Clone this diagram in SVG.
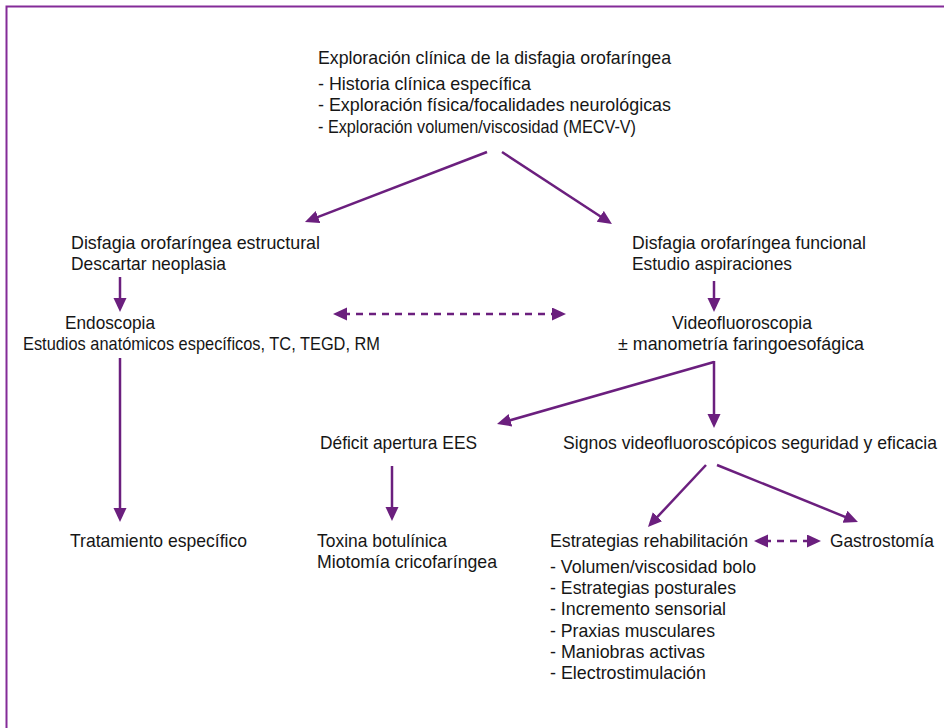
<svg xmlns="http://www.w3.org/2000/svg" width="944" height="728" viewBox="0 0 944 728">
<style>
text{font-family:"Liberation Sans",Arial,sans-serif;font-size:19px;fill:#161616;}
.c{stroke:#6b1f7e;stroke-width:2.5;fill:none;}
.d{stroke-dasharray:7 6;}
</style>
<defs>
<marker id="ah" markerUnits="userSpaceOnUse" markerWidth="16" markerHeight="14" refX="4" refY="6.5" orient="auto-start-reverse" viewBox="0 0 16 14">
<path d="M0,0 L14,6.5 L0,13 z" fill="#6b1f7e"/>
</marker>
</defs>
<rect width="944" height="728" fill="#fff"/>
<path d="M6.5,728 V6.5 H944" fill="none" stroke="#842b98" stroke-width="2"/>
<g id="connectors">
<line class="c" x1="487" y1="152" x2="314.3" y2="218.4" marker-end="url(#ah)"/>
<line class="c" x1="502" y1="152" x2="603.6" y2="218.5" marker-end="url(#ah)"/>
<line class="c" x1="120" y1="277" x2="120" y2="302" marker-end="url(#ah)"/>
<line class="c d" x1="343" y1="314" x2="556" y2="314" marker-start="url(#ah)" marker-end="url(#ah)"/>
<line class="c" x1="714" y1="281" x2="714" y2="302" marker-end="url(#ah)"/>
<line class="c" x1="120" y1="358" x2="120" y2="512" marker-end="url(#ah)"/>
<line class="c" x1="714" y1="361" x2="714" y2="418" marker-end="url(#ah)"/>
<line class="c" x1="714" y1="362" x2="506.6" y2="421.3" marker-end="url(#ah)"/>
<line class="c" x1="392" y1="466" x2="392" y2="511" marker-end="url(#ah)"/>
<line class="c" x1="706" y1="465" x2="654.8" y2="519.7" marker-end="url(#ah)"/>
<line class="c" x1="717" y1="465" x2="848.7" y2="518.3" marker-end="url(#ah)"/>
<line class="c d" x1="764" y1="541" x2="811" y2="541" marker-start="url(#ah)" marker-end="url(#ah)"/>
</g>
<g id="exploracion">
<text x="318" y="64" textLength="353" lengthAdjust="spacingAndGlyphs">Exploración clínica de la disfagia orofaríngea</text>
<text x="318" y="90" textLength="213" lengthAdjust="spacingAndGlyphs">- Historia clínica específica</text>
<text x="318" y="111" textLength="353" lengthAdjust="spacingAndGlyphs">- Exploración física/focalidades neurológicas</text>
<text x="318" y="133" textLength="318" lengthAdjust="spacingAndGlyphs">- Exploración volumen/viscosidad (MECV-V)</text>
</g>
<g id="estructural">
<text x="71" y="249" textLength="249" lengthAdjust="spacingAndGlyphs">Disfagia orofaríngea estructural</text>
<text x="71" y="270" textLength="155" lengthAdjust="spacingAndGlyphs">Descartar neoplasia</text>
</g>
<g id="endoscopia">
<text x="65" y="329" textLength="90" lengthAdjust="spacingAndGlyphs">Endoscopia</text>
<text x="23" y="350" textLength="357" lengthAdjust="spacingAndGlyphs">Estudios anatómicos específicos, TC, TEGD, RM</text>
</g>
<g id="tratamiento">
<text x="70" y="547" textLength="177" lengthAdjust="spacingAndGlyphs">Tratamiento específico</text>
</g>
<g id="funcional">
<text x="632" y="249" textLength="234" lengthAdjust="spacingAndGlyphs">Disfagia orofaríngea funcional</text>
<text x="632" y="270" textLength="160" lengthAdjust="spacingAndGlyphs">Estudio aspiraciones</text>
</g>
<g id="videofluoroscopia">
<text x="672" y="329" textLength="140" lengthAdjust="spacingAndGlyphs">Videofluoroscopia</text>
<text x="618" y="350" textLength="246" lengthAdjust="spacingAndGlyphs">± manometría faringoesofágica</text>
</g>
<g id="deficit">
<text x="320" y="449" textLength="157" lengthAdjust="spacingAndGlyphs">Déficit apertura EES</text>
</g>
<g id="signos">
<text x="563" y="449" textLength="374" lengthAdjust="spacingAndGlyphs">Signos videofluoroscópicos seguridad y eficacia</text>
</g>
<g id="toxina">
<text x="317" y="547" textLength="130" lengthAdjust="spacingAndGlyphs">Toxina botulínica</text>
<text x="317" y="568" textLength="180" lengthAdjust="spacingAndGlyphs">Miotomía cricofaríngea</text>
</g>
<g id="estrategias">
<text x="550" y="547" textLength="198" lengthAdjust="spacingAndGlyphs">Estrategias rehabilitación</text>
<text x="550" y="573" textLength="206" lengthAdjust="spacingAndGlyphs">- Volumen/viscosidad bolo</text>
<text x="550" y="594" textLength="186" lengthAdjust="spacingAndGlyphs">- Estrategias posturales</text>
<text x="550" y="615" textLength="176" lengthAdjust="spacingAndGlyphs">- Incremento sensorial</text>
<text x="550" y="637" textLength="165" lengthAdjust="spacingAndGlyphs">- Praxias musculares</text>
<text x="550" y="658" textLength="155" lengthAdjust="spacingAndGlyphs">- Maniobras activas</text>
<text x="550" y="679" textLength="156" lengthAdjust="spacingAndGlyphs">- Electrostimulación</text>
</g>
<g id="gastrostomia">
<text x="830" y="547" textLength="104" lengthAdjust="spacingAndGlyphs">Gastrostomía</text>
</g>
</svg>
